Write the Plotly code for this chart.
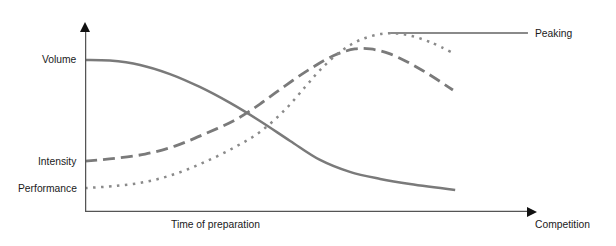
import plotly.graph_objects as go

# Data (arbitrary units: time 0-100, level 0-100)
volume_x = [0, 5.5, 12.2, 18.8, 25.4, 32.1, 38.7, 45.4, 52.0, 58.6, 65.3, 71.9, 81.9]
volume_y = [80.0, 79.7, 77.4, 72.6, 65.8, 57.4, 47.9, 37.4, 27.4, 21.1, 17.4, 14.7, 11.6]

intensity_x = [0, 6.6, 13.3, 19.9, 26.5, 33.2, 38.7, 44.2, 49.8, 55.3, 59.7, 63.1, 67.5, 74.1, 81.4]
intensity_y = [26.8, 28.2, 30.5, 34.7, 41.1, 48.4, 56.8, 66.3, 75.3, 82.6, 85.8, 85.8, 83.2, 75.3, 64.2]

performance_x = [0, 6.6, 13.3, 19.9, 26.5, 33.2, 38.7, 44.2, 48.7, 52.0, 56.4, 60.8, 66.4, 71.2, 76.3, 81.4]
performance_y = [12.6, 13.7, 15.8, 20.0, 26.3, 34.2, 42.1, 53.7, 65.8, 74.7, 84.2, 90.5, 94.0, 93.2, 89.5, 83.7]

peaking_x = [67.5, 98.0]
peaking_level = 94.2

y_labels = ["Volume", "Intensity", "Performance"]
y_label_pos = [80.0, 26.8, 12.6]
x_label = "Time of preparation"
x_end_label = "Competition"
peak_label = "Peaking"

curve_color = "#7a7a7a"
axis_color = "#555555"
text_color = "#1a1a1a"
font_family = "Liberation Sans, Arial, sans-serif"
font_size = 10.3

fig = go.Figure()
fig.add_trace(go.Scatter(x=volume_x, y=volume_y, mode="lines",
                         line=dict(color=curve_color, width=2.5, shape="spline", smoothing=1.0)))
fig.add_trace(go.Scatter(x=intensity_x, y=intensity_y, mode="lines",
                         line=dict(color=curve_color, width=2.8, shape="spline", smoothing=1.0, dash="12px,6px")))
fig.add_trace(go.Scatter(x=performance_x, y=performance_y, mode="lines",
                         line=dict(color="#8a8a8a", width=2.5, shape="spline", smoothing=1.0, dash="2.5px,5.5px")))
fig.add_trace(go.Scatter(x=peaking_x, y=[peaking_level, peaking_level], mode="lines",
                         line=dict(color="#8a8a8a", width=2)))

# Axes lines
fig.add_shape(type="line", xref="x", yref="y", x0=0, y0=0, x1=0, y1=97,
              line=dict(color=axis_color, width=2.5))
fig.add_shape(type="line", xref="x", yref="y", x0=0, y0=0, x1=98.5, y1=0,
              line=dict(color=axis_color, width=2.5))

annotations = [
    dict(x=0, y=100, ax=0, ay=96, xref="x", yref="y", axref="x", ayref="y",
         showarrow=True, arrowhead=2, arrowsize=1, arrowwidth=2, arrowcolor="#111", text=""),
    dict(x=100, y=0, ax=98, ay=0, xref="x", yref="y", axref="x", ayref="y",
         showarrow=True, arrowhead=2, arrowsize=1, arrowwidth=2, arrowcolor="#111", text=""),
]
# plot domain spans the 0-100 range, so paper fraction = value / 100
for lab, pos in zip(y_labels, y_label_pos):
    annotations.append(dict(x=-0.013, y=pos / 100, xref="paper", yref="paper", text=lab, showarrow=False,
                            xanchor="right", yanchor="middle",
                            font=dict(size=font_size, color=text_color, family=font_family)))
annotations.append(dict(x=0.288, y=-0.068, xref="paper", yref="paper", text=x_label, showarrow=False,
                        xanchor="center", yanchor="middle",
                        font=dict(size=font_size, color=text_color, family=font_family)))
annotations.append(dict(x=0.991, y=-0.068, xref="paper", yref="paper", text=x_end_label, showarrow=False,
                        xanchor="left", yanchor="middle",
                        font=dict(size=font_size, color=text_color, family=font_family)))
annotations.append(dict(x=0.991, y=peaking_level / 100, xref="paper", yref="paper", text=peak_label,
                        showarrow=False, xanchor="left", yanchor="middle",
                        font=dict(size=font_size, color=text_color, family=font_family)))

fig.update_layout(
    width=616, height=246,
    margin=dict(l=85, r=79, t=22, b=34),
    paper_bgcolor="white", plot_bgcolor="white",
    showlegend=False,
    xaxis=dict(range=[0, 100], visible=False, fixedrange=True),
    yaxis=dict(range=[0, 100], visible=False, fixedrange=True),
    annotations=annotations,
)

fig.write_html("out.html", config={"displayModeBar": False})
